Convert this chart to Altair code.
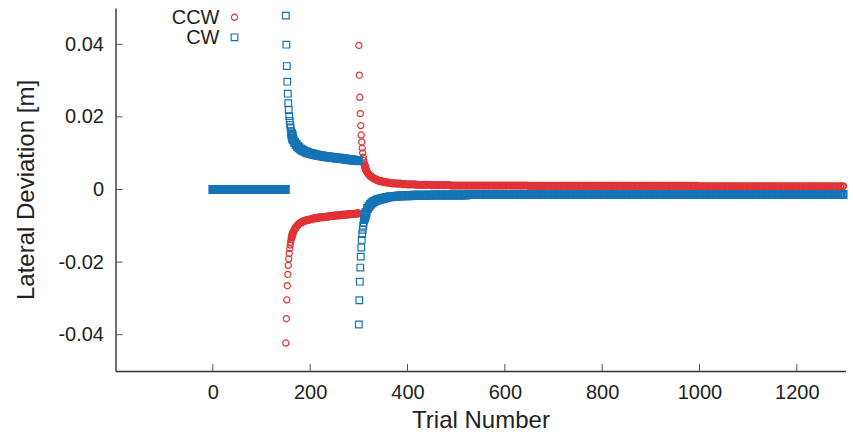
import altair as alt
import pandas as pd

# ---------------- data ----------------
# CW (blue squares)
cw_trials_a = list(range(0, 150, 3)) + [149]
cw_vals_a = [0.0] * len(cw_trials_a)  # baseline phase: deviation is zero
cw_trials_b = list(range(150, 166))
cw_vals_b = [0.0479, 0.0399, 0.0340, 0.0297, 0.0264, 0.0238, 0.0219, 0.0202,
             0.0189, 0.0178, 0.0169, 0.0161, 0.0154, 0.0148, 0.0142, 0.0137]
cw_trials_c = list(range(168, 300, 3)) + [299]
cw_vals_c = [0.0130, 0.0124, 0.0119, 0.0115, 0.0112, 0.0109, 0.0107, 0.0105, 0.0103, 0.0101,
             0.0100, 0.0099, 0.0098, 0.0097, 0.0096, 0.0095, 0.0094, 0.0094, 0.0093, 0.0092,
             0.0092, 0.0091, 0.0090, 0.0090, 0.0089, 0.0089, 0.0088, 0.0088, 0.0087, 0.0087,
             0.0086, 0.0086, 0.0085, 0.0085, 0.0084, 0.0084, 0.0083, 0.0083, 0.0082, 0.0082,
             0.0081, 0.0081, 0.0080, 0.0080, 0.0079]
cw_trials_d = list(range(300, 316))
cw_vals_d = [-0.0372, -0.0305, -0.0254, -0.0215, -0.0185, -0.0160, -0.0139, -0.0123,
             -0.0111, -0.0100, -0.0091, -0.0084, -0.0078, -0.0072, -0.0067, -0.0063]
cw_trials_e = list(range(318, 361, 3))
cw_vals_e = [-0.0052, -0.0046, -0.0041, -0.0037, -0.0034, -0.0032, -0.0030, -0.0028,
             -0.0027, -0.0026, -0.0025, -0.0024, -0.0023, -0.0022, -0.0021]
cw_trials_f = list(range(365, 400, 5))
cw_vals_f = [-0.0020, -0.0019, -0.0019, -0.0018, -0.0018, -0.0017, -0.0017]
cw_trials_g = list(range(400, 1300, 5))
cw_vals_g = [
    -0.0017, -0.0017, -0.0016, -0.0016, -0.0016, -0.0016, -0.0016, -0.0016, -0.0016, -0.0016,
    -0.0015, -0.0015, -0.0015, -0.0015, -0.0015, -0.0015, -0.0015, -0.0015, -0.0015, -0.0015,
    -0.0015, -0.0015, -0.0015, -0.0015, -0.0015, -0.0014, -0.0014, -0.0014, -0.0014, -0.0014,
    -0.0014, -0.0014, -0.0014, -0.0014, -0.0014, -0.0014, -0.0014, -0.0014, -0.0014, -0.0014,
    -0.0014, -0.0014, -0.0014, -0.0014, -0.0014, -0.0014, -0.0014, -0.0014, -0.0014, -0.0014,
    -0.0014, -0.0014, -0.0014, -0.0014, -0.0014, -0.0014, -0.0014, -0.0014, -0.0014, -0.0014,
    -0.0014, -0.0014, -0.0014, -0.0014, -0.0014, -0.0014, -0.0014, -0.0014, -0.0014, -0.0014,
    -0.0014, -0.0014, -0.0014, -0.0014, -0.0014, -0.0014, -0.0014, -0.0014, -0.0014, -0.0014,
    -0.0014, -0.0014, -0.0014, -0.0014, -0.0014, -0.0014, -0.0014, -0.0014, -0.0014, -0.0014,
    -0.0014, -0.0014, -0.0014, -0.0014, -0.0014, -0.0014, -0.0014, -0.0014, -0.0014, -0.0014,
    -0.0014, -0.0014, -0.0014, -0.0014, -0.0014, -0.0014, -0.0014, -0.0014, -0.0014, -0.0014,
    -0.0014, -0.0014, -0.0014, -0.0014, -0.0014, -0.0014, -0.0014, -0.0014, -0.0014, -0.0014,
    -0.0014, -0.0014, -0.0014, -0.0014, -0.0014, -0.0014, -0.0014, -0.0014, -0.0014, -0.0014,
    -0.0014, -0.0014, -0.0014, -0.0014, -0.0014, -0.0014, -0.0014, -0.0014, -0.0014, -0.0014,
    -0.0014, -0.0014, -0.0014, -0.0014, -0.0014, -0.0014, -0.0014, -0.0014, -0.0014, -0.0014,
    -0.0014, -0.0014, -0.0014, -0.0014, -0.0014, -0.0014, -0.0014, -0.0014, -0.0014, -0.0014,
    -0.0014, -0.0014, -0.0014, -0.0014, -0.0014, -0.0014, -0.0014, -0.0014, -0.0014, -0.0014,
    -0.0014, -0.0014, -0.0014, -0.0014, -0.0014, -0.0014, -0.0014, -0.0014, -0.0014, -0.0014,
]

# CCW (red circles)
ccw_trials_b = list(range(150, 166))
ccw_vals_b = [-0.0423, -0.0356, -0.0304, -0.0265, -0.0234, -0.0209, -0.0191, -0.0176,
              -0.0163, -0.0153, -0.0145, -0.0138, -0.0132, -0.0127, -0.0122, -0.0118]
ccw_trials_c = list(range(168, 300, 3)) + [299]
ccw_vals_c = [-0.0110, -0.0104, -0.0099, -0.0095, -0.0092, -0.0090, -0.0088, -0.0086, -0.0085, -0.0084,
              -0.0083, -0.0082, -0.0081, -0.0080, -0.0079, -0.0079, -0.0078, -0.0077, -0.0077, -0.0076,
              -0.0076, -0.0075, -0.0075, -0.0074, -0.0074, -0.0073, -0.0073, -0.0072, -0.0072, -0.0071,
              -0.0071, -0.0071, -0.0070, -0.0070, -0.0069, -0.0069, -0.0069, -0.0068, -0.0068, -0.0068,
              -0.0067, -0.0067, -0.0067, -0.0066, -0.0066]
ccw_trials_d = list(range(300, 316))
ccw_vals_d = [0.0397, 0.0315, 0.0254, 0.0209, 0.0176, 0.0150, 0.0131, 0.0114,
              0.0101, 0.0089, 0.0080, 0.0073, 0.0067, 0.0062, 0.0057, 0.0053]
ccw_trials_e = list(range(318, 361, 3))
ccw_vals_e = [0.0046, 0.0041, 0.0037, 0.0034, 0.0031, 0.0029, 0.0027, 0.0025,
              0.0024, 0.0023, 0.0022, 0.0021, 0.0020, 0.0020, 0.0019]
ccw_trials_f = list(range(365, 400, 5))
ccw_vals_f = [0.0018, 0.0017, 0.0017, 0.0016, 0.0016, 0.0015, 0.0015]
ccw_trials_g = list(range(400, 1300, 5))
ccw_vals_g = [
    0.0014, 0.0014, 0.0014, 0.0014, 0.0013, 0.0013, 0.0013, 0.0013, 0.0013, 0.0013,
    0.0012, 0.0012, 0.0012, 0.0012, 0.0012, 0.0012, 0.0012, 0.0012, 0.0011, 0.0011,
    0.0011, 0.0011, 0.0011, 0.0011, 0.0011, 0.0011, 0.0011, 0.0011, 0.0011, 0.0011,
    0.0011, 0.0011, 0.0011, 0.0011, 0.0011, 0.0011, 0.0011, 0.0011, 0.0011, 0.0011,
    0.0011, 0.0011, 0.0011, 0.0011, 0.0011, 0.0011, 0.0011, 0.0011, 0.0011, 0.0011,
    0.0010, 0.0010, 0.0010, 0.0010, 0.0010, 0.0010, 0.0010, 0.0010, 0.0010, 0.0010,
    0.0010, 0.0010, 0.0010, 0.0010, 0.0010, 0.0010, 0.0010, 0.0010, 0.0010, 0.0010,
    0.0010, 0.0010, 0.0010, 0.0010, 0.0010, 0.0010, 0.0010, 0.0010, 0.0010, 0.0010,
    0.0010, 0.0010, 0.0010, 0.0010, 0.0010, 0.0010, 0.0010, 0.0010, 0.0010, 0.0010,
    0.0010, 0.0010, 0.0010, 0.0010, 0.0010, 0.0010, 0.0010, 0.0010, 0.0010, 0.0010,
    0.0010, 0.0010, 0.0010, 0.0010, 0.0010, 0.0010, 0.0010, 0.0010, 0.0010, 0.0010,
    0.0010, 0.0010, 0.0010, 0.0010, 0.0010, 0.0010, 0.0010, 0.0010, 0.0010, 0.0010,
    0.0009, 0.0009, 0.0009, 0.0009, 0.0009, 0.0009, 0.0009, 0.0009, 0.0009, 0.0009,
    0.0009, 0.0009, 0.0009, 0.0009, 0.0009, 0.0009, 0.0009, 0.0009, 0.0009, 0.0009,
    0.0009, 0.0009, 0.0009, 0.0009, 0.0009, 0.0009, 0.0009, 0.0009, 0.0009, 0.0009,
    0.0009, 0.0009, 0.0009, 0.0009, 0.0009, 0.0009, 0.0009, 0.0009, 0.0009, 0.0009,
    0.0009, 0.0009, 0.0009, 0.0009, 0.0009, 0.0009, 0.0009, 0.0009, 0.0009, 0.0009,
    0.0009, 0.0009, 0.0009, 0.0009, 0.0009, 0.0009, 0.0009, 0.0009, 0.0009, 0.0009,
]

x_ticks = [0, 200, 400, 600, 800, 1000, 1200]
y_ticks = [-0.04, -0.02, 0, 0.02, 0.04]
series_names = ["CCW", "CW"]

# ---------------- build tables ----------------
# the first points after each switch are isolated (thin outlines); the rest overlap into a solid band
N_SPARSE = 12
cw_sparse = pd.DataFrame({
    "trial": cw_trials_b[:N_SPARSE] + cw_trials_d[:N_SPARSE],
    "dev": cw_vals_b[:N_SPARSE] + cw_vals_d[:N_SPARSE]})
cw_dense = pd.DataFrame({
    "trial": cw_trials_a + cw_trials_b[N_SPARSE:] + cw_trials_c + cw_trials_d[N_SPARSE:]
    + cw_trials_e + cw_trials_f + cw_trials_g,
    "dev": cw_vals_a + cw_vals_b[N_SPARSE:] + cw_vals_c + cw_vals_d[N_SPARSE:]
    + cw_vals_e + cw_vals_f + cw_vals_g})
ccw_sparse = pd.DataFrame({
    "trial": ccw_trials_b[:N_SPARSE] + ccw_trials_d[:N_SPARSE],
    "dev": ccw_vals_b[:N_SPARSE] + ccw_vals_d[:N_SPARSE]})
ccw_dense = pd.DataFrame({
    "trial": ccw_trials_b[N_SPARSE:] + ccw_trials_c + ccw_trials_d[N_SPARSE:]
    + ccw_trials_e + ccw_trials_f + ccw_trials_g,
    "dev": ccw_vals_b[N_SPARSE:] + ccw_vals_c + ccw_vals_d[N_SPARSE:]
    + ccw_vals_e + ccw_vals_f + ccw_vals_g})

xt_df = pd.DataFrame({"trial": x_ticks})
yt_df = pd.DataFrame({"dev": y_ticks})
one = pd.DataFrame({"k": [0]})

RED = "#e03236"
BLUE = "#1573b6"
FONT = "Liberation Sans"
TXT = "#222222"

xscale = alt.Scale(domain=[-200, 1300], nice=False, zero=False)
yscale = alt.Scale(domain=[-0.05, 0.05], nice=False, zero=False)
xaxis = alt.Axis(values=x_ticks, title="Trial Number", ticks=False, grid=False,
                 labelExpr="'' + datum.value",
                 labelFontSize=20, labelFont=FONT, labelColor=TXT, labelPadding=11,
                 domainColor="#333333", domainWidth=1.4,
                 titleFontSize=24, titleFont=FONT, titleFontWeight="normal", titleColor=TXT,
                 titleX=365, titleY=56, titleAlign="center", titleBaseline="alphabetic")
yaxis = alt.Axis(values=y_ticks, title="Lateral Deviation [m]", ticks=False, grid=False,
                 labelExpr="'' + datum.value",
                 labelFontSize=20, labelFont=FONT, labelColor=TXT, labelPadding=12,
                 domainColor="#333333", domainWidth=1.4,
                 titleFontSize=24, titleFont=FONT, titleFontWeight="normal", titleColor=TXT,
                 titleX=-89, titleY=181.5, titleAngle=270, titleAlign="center", titleBaseline="middle")


def X():
    return alt.X("trial:Q", scale=xscale, axis=xaxis)


def Y():
    return alt.Y("dev:Q", scale=yscale, axis=yaxis)


def circles(df, sw):
    return alt.Chart(df).mark_point(shape="circle", filled=False, color=RED, size=38,
                                    strokeWidth=sw, opacity=1).encode(x=X(), y=Y())


def squares(df, sw):
    return alt.Chart(df).mark_point(shape="square", filled=False, color=BLUE, size=44,
                                    strokeWidth=sw, opacity=1).encode(x=X(), y=Y())


xtick_layer = alt.Chart(xt_df).mark_rule(color="#555555", strokeWidth=1).encode(
    x=X(), y=alt.value(363), y2=alt.value(356))
ytick_layer = alt.Chart(yt_df).mark_rule(color="#555555", strokeWidth=1).encode(
    y=Y(), x=alt.value(0), x2=alt.value(7))

leg_txt_ccw = alt.Chart(one).mark_text(align="right", baseline="middle", fontSize=20, font=FONT,
                                       color=TXT).encode(x=alt.value(104), y=alt.value(9.5),
                                                         text=alt.value(series_names[0]))
leg_txt_cw = alt.Chart(one).mark_text(align="right", baseline="middle", fontSize=20, font=FONT,
                                      color=TXT).encode(x=alt.value(104), y=alt.value(29.5),
                                                        text=alt.value(series_names[1]))
leg_sym_ccw = alt.Chart(one).mark_point(shape="circle", filled=False, color=RED, size=38,
                                        strokeWidth=1.2, opacity=1).encode(
    x=alt.value(119), y=alt.value(9.3))
leg_sym_cw = alt.Chart(one).mark_point(shape="square", filled=False, color=BLUE, size=44,
                                       strokeWidth=1.2, opacity=1).encode(
    x=alt.value(119), y=alt.value(29.3))

chart = alt.layer(
    xtick_layer, ytick_layer,
    circles(ccw_dense, 2.0), circles(ccw_sparse, 1.2),
    squares(cw_dense, 2.3), squares(cw_sparse, 1.2),
    leg_txt_ccw, leg_txt_cw, leg_sym_ccw, leg_sym_cw,
).properties(
    width=730, height=363,
    padding={"left": 115.5, "top": 8, "right": 7.5, "bottom": 67},
    autosize=alt.AutoSizeParams(type="none"),
    background="white",
).configure_view(stroke=None)

chart.save("out.html", embed_options={"renderer": "svg", "actions": False})
